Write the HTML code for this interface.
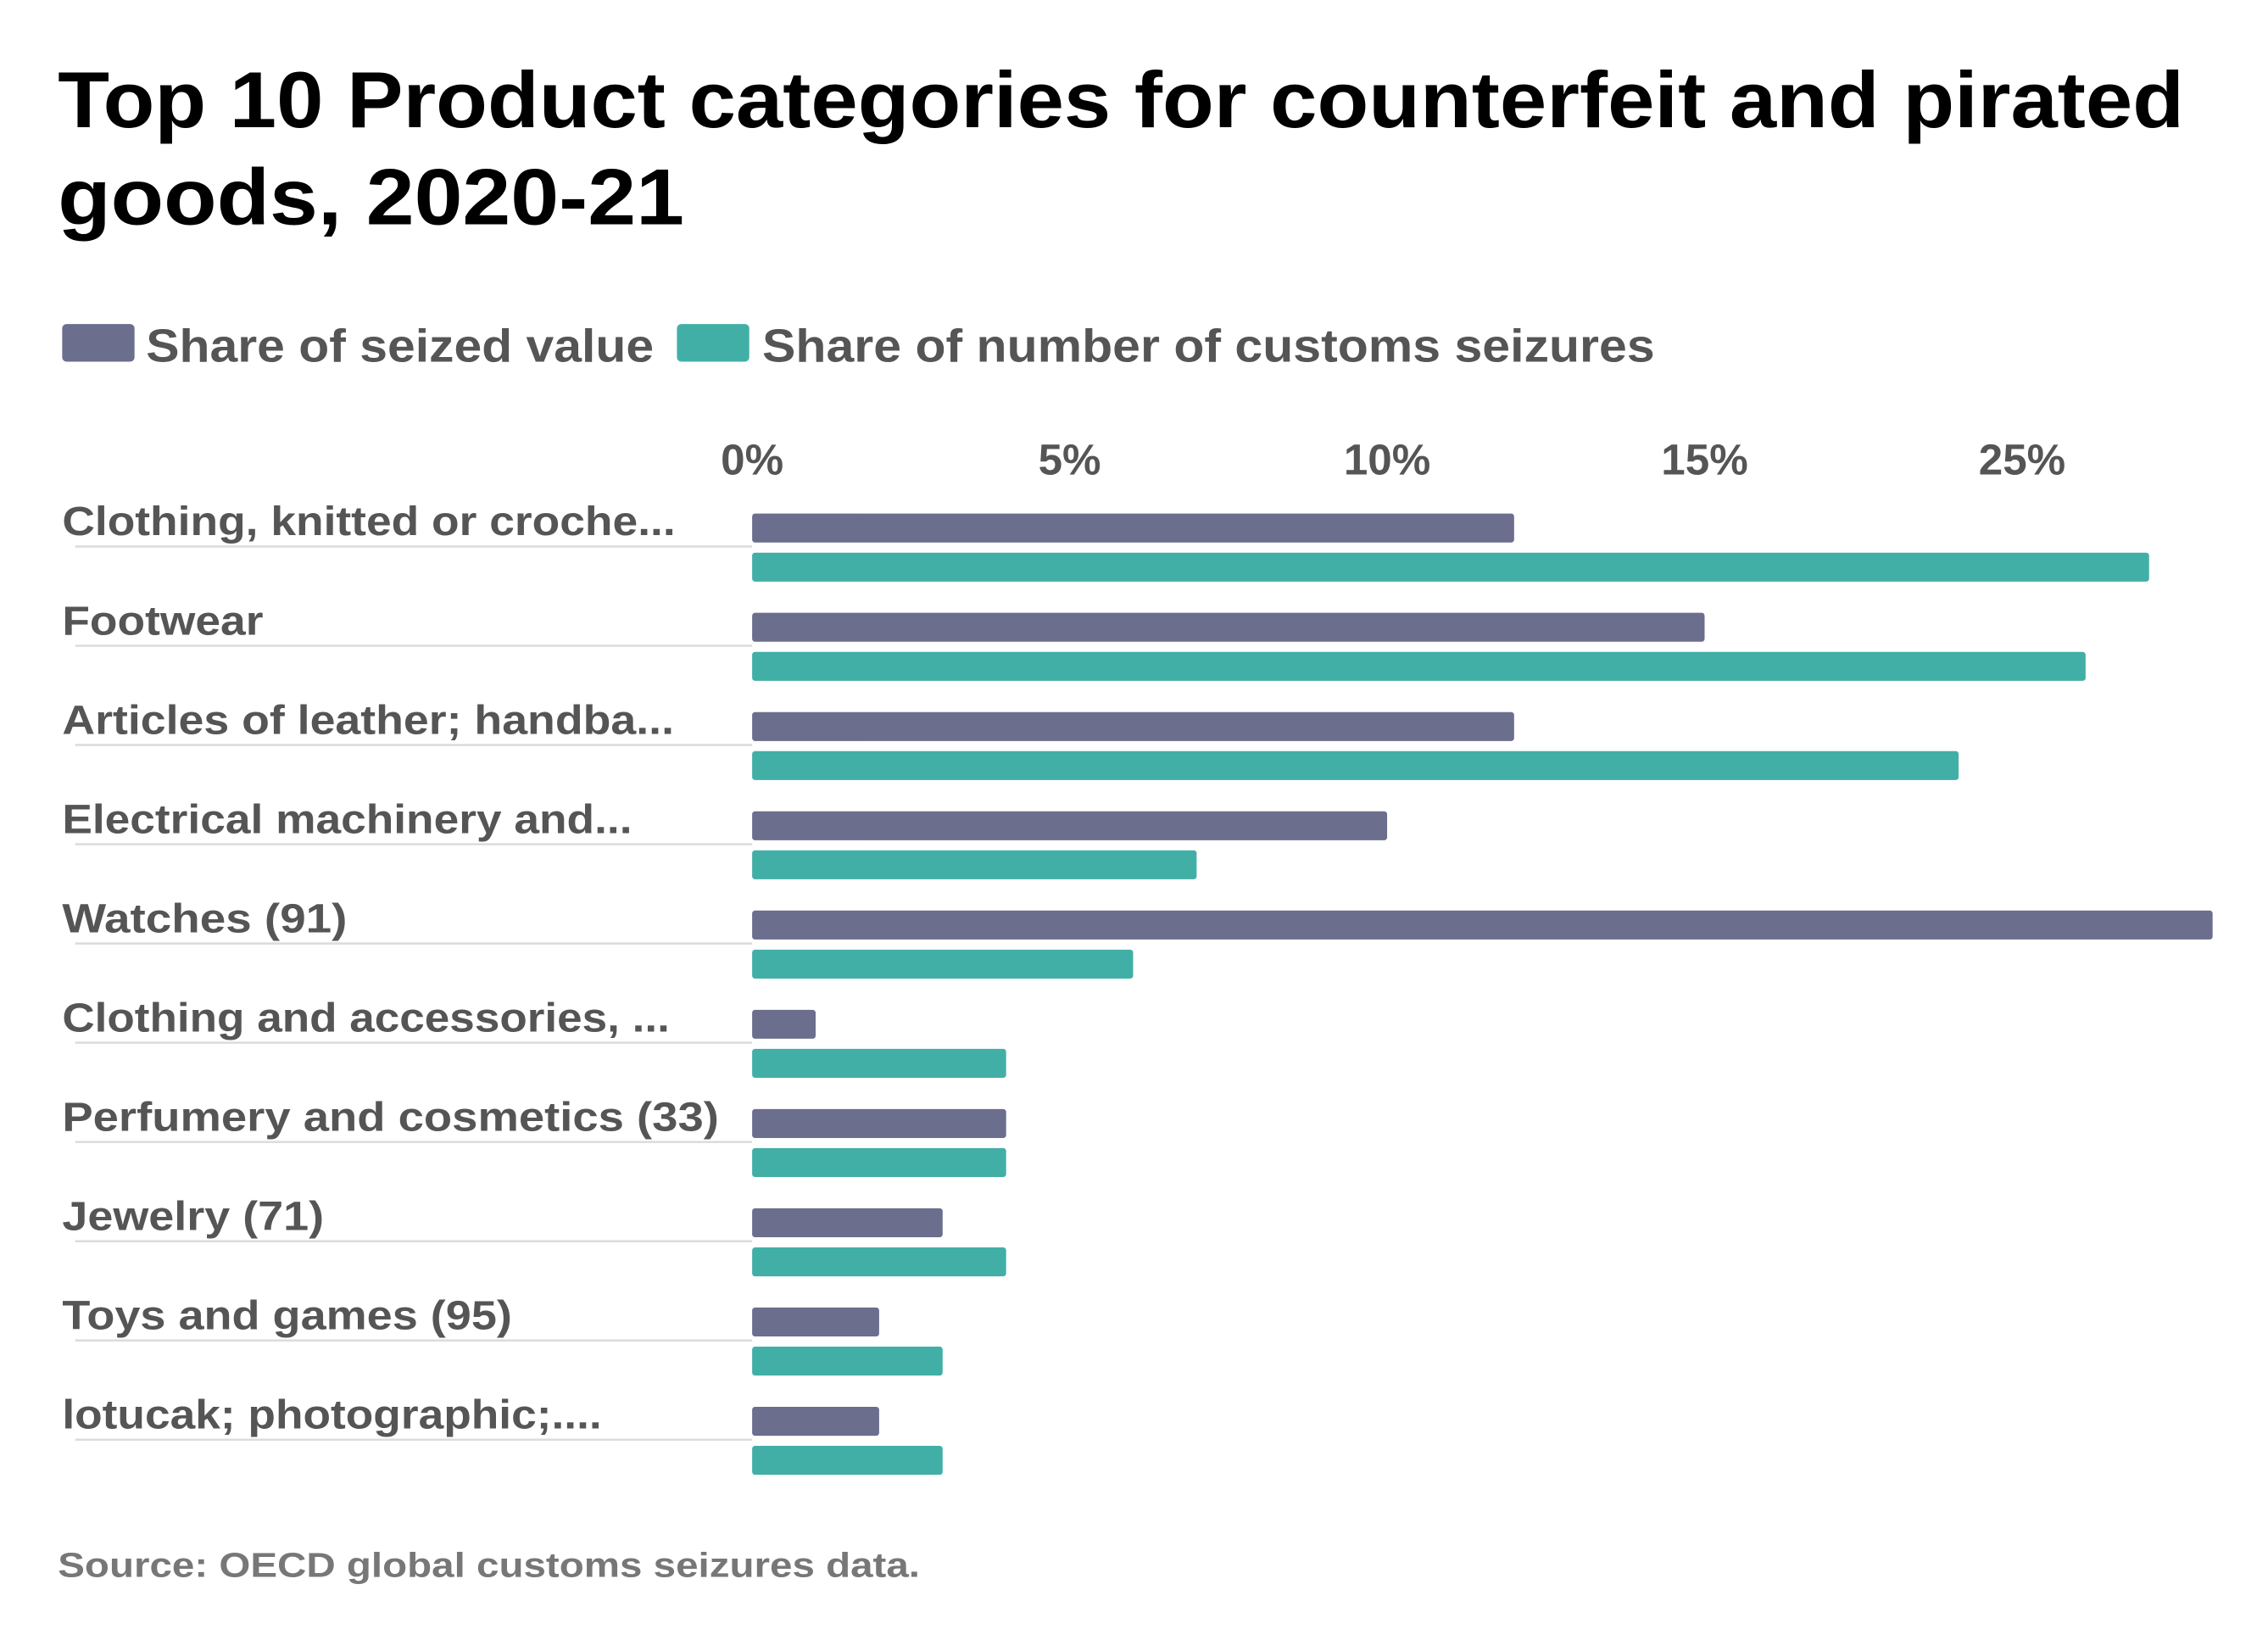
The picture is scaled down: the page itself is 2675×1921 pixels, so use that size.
<!DOCTYPE html>
<html><head><meta charset="utf-8"><style>
html,body{margin:0;padding:0;background:#fff;}
svg{display:block;}
text{font-family:"Liberation Sans",sans-serif;font-weight:bold;}
</style></head><body>
<svg id="chart" width="2675" height="1921" viewBox="0 0 1568 1126" preserveAspectRatio="none" xmlns="http://www.w3.org/2000/svg">
<text x="40" y="88" font-size="55" fill="#000" textLength="1470" lengthAdjust="spacingAndGlyphs">Top 10 Product categories for counterfeit and  pirated</text>
<text x="40" y="155" font-size="55" fill="#000" textLength="433" lengthAdjust="spacingAndGlyphs">goods, 2020-21</text>
<g>
<rect x="43" y="224" width="50" height="26" rx="3" fill="#6b6e8c"/>
<text x="101" y="250" font-size="32" fill="#555" textLength="351" lengthAdjust="spacingAndGlyphs">Share of seized value</text>
<rect x="468" y="224" width="50" height="26" rx="3" fill="#42afa7"/>
<text x="527" y="250" font-size="32" fill="#555" textLength="617" lengthAdjust="spacingAndGlyphs">Share of number of customs seizures</text>
</g>
<g id="axis"></g>
<g id="rows"></g>
<text x="40" y="1090" font-size="24" fill="#777" textLength="596" lengthAdjust="spacingAndGlyphs">Source: OECD global customs seizures data.</text>
</svg>
<script>
const categories = ["Clothing, knitted or croche...","Footwear","Articles of leather; handba...","Electrical machinery and...","Watches (91)","Clothing and accessories, ...","Perfumery and cosmetics (33)","Jewelry (71)","Toys and games (95)","lotucak; photographic;...."];
const seizedValue = [12,15,12,10,23,1,4,3,2,2];
const customsSeizures = [22,21,19,7,6,4,4,4,3,3];
const tickValues = [0,5,10,15,20];
const tickLabels = ["0%","5%","10%","15%","25%"];
const labelWidths = [424,139,423,394,197,420,454,181,311,373];

const NS = "http://www.w3.org/2000/svg";
const x0 = 520, pxPer = 43.9;
function xScale(v){ return x0 + v*pxPer; }
const rowTop = 355, rowStep = 68.6, barH = 20, gap = 27;
function mk(tag, attrs, parent){
  const e = document.createElementNS(NS, tag);
  for (const k in attrs) e.setAttribute(k, attrs[k]);
  parent.appendChild(e);
  return e;
}
const axis = document.getElementById('axis');
tickValues.forEach((v,i)=>{
  const t = mk('text', {x: xScale(v), y: 328, 'font-size': 30, fill: '#555', 'text-anchor': 'middle'}, axis);
  
  
  t.textContent = tickLabels[i];
});
const rows = document.getElementById('rows');
categories.forEach((c,i)=>{
  const y = rowTop + i*rowStep;
  const lbl = mk('text', {x: 43, y: y+15, 'font-size': 28, fill: '#555', textLength: labelWidths[i], lengthAdjust: 'spacingAndGlyphs'}, rows);
  
  
  lbl.textContent = c;
  const ln = mk('rect', {x: 52, y: y+22, width: x0-52, height: 1.5, fill: '#dcdcdc'}, rows);
  
  
  const b1 = mk('rect', {x: x0, y: y, width: Math.max(0, xScale(seizedValue[i])-x0), height: barH, rx: 2, fill: '#6b6e8c'}, rows);
  
  
  const b2 = mk('rect', {x: x0, y: y+gap, width: Math.max(0, xScale(customsSeizures[i])-x0), height: barH, rx: 2, fill: '#42afa7'}, rows);
  
  
});
</script>
</body></html>
